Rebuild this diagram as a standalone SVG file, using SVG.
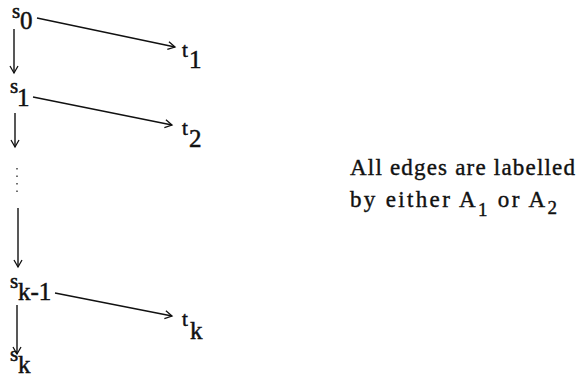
<svg xmlns="http://www.w3.org/2000/svg" width="577" height="379" viewBox="0 0 577 379">
<defs>
<marker id="ah" markerWidth="10" markerHeight="10" refX="8" refY="5" orient="auto" markerUnits="userSpaceOnUse">
<path d="M1,1 L8,5 L1,9" fill="none" stroke="#111" stroke-width="1.3"/>
</marker>
<style>
.lbl{font-family:"Liberation Serif","Times New Roman",serif;fill:#111;stroke:#111;stroke-width:0.5}
.sm{font-size:21px}
.sub{font-size:25px}
.note{font-family:"Liberation Serif","Times New Roman",serif;font-size:23px;fill:#111;stroke:#111;stroke-width:0.4}
.e{stroke:#111;stroke-width:1.4;fill:none;marker-end:url(#ah)}
.d{stroke:#111;stroke-width:1.2;fill:none;stroke-dasharray:1.5 6}
</style>
</defs>
<rect width="577" height="379" fill="#fff"/>
<g id="connectors">
<line class="e" x1="37" y1="18" x2="175" y2="47"/>
<line class="e" x1="33" y1="97" x2="172" y2="125"/>
<line class="e" x1="55" y1="293" x2="172" y2="316"/>
<line class="e" x1="14" y1="29" x2="14" y2="73"/>
<line class="e" x1="15" y1="113" x2="15" y2="147"/>
<line class="d" x1="17" y1="168" x2="17" y2="195"/>
<line class="e" x1="18" y1="208" x2="18" y2="267"/>
<line class="e" x1="17" y1="305" x2="17" y2="354"/>
</g>
<g id="s0"><text class="lbl" x="12" y="18"><tspan class="sm">s</tspan><tspan class="sub" x="20" y="29">0</tspan></text></g>
<g id="t1"><text class="lbl" x="182" y="57"><tspan class="sm">t</tspan><tspan class="sub" x="189" y="68">1</tspan></text></g>
<g id="s1"><text class="lbl" x="10" y="93"><tspan class="sm">s</tspan><tspan class="sub" x="17" y="106">1</tspan></text></g>
<g id="t2"><text class="lbl" x="182" y="135"><tspan class="sm">t</tspan><tspan class="sub" x="189" y="147">2</tspan></text></g>
<g id="sk1"><text class="lbl" x="10" y="288"><tspan class="sm">s</tspan><tspan class="sub" x="18" y="300">k-1</tspan></text></g>
<g id="tk"><text class="lbl" x="182" y="326"><tspan class="sm">t</tspan><tspan class="sub" x="190" y="339">k</tspan></text></g>
<g id="sk"><text class="lbl" x="10" y="361"><tspan class="sm">s</tspan><tspan class="sub" x="18" y="373">k</tspan></text></g>
<g id="note">
<text class="note" x="350" y="175" textLength="225" lengthAdjust="spacing">All edges are labelled</text>
<text class="note" x="350" y="207" textLength="207" lengthAdjust="spacing">by either A<tspan font-size="19" dy="9">1</tspan><tspan dy="-9"> or A</tspan><tspan font-size="19" dy="7">2</tspan></text>
</g>
</svg>
